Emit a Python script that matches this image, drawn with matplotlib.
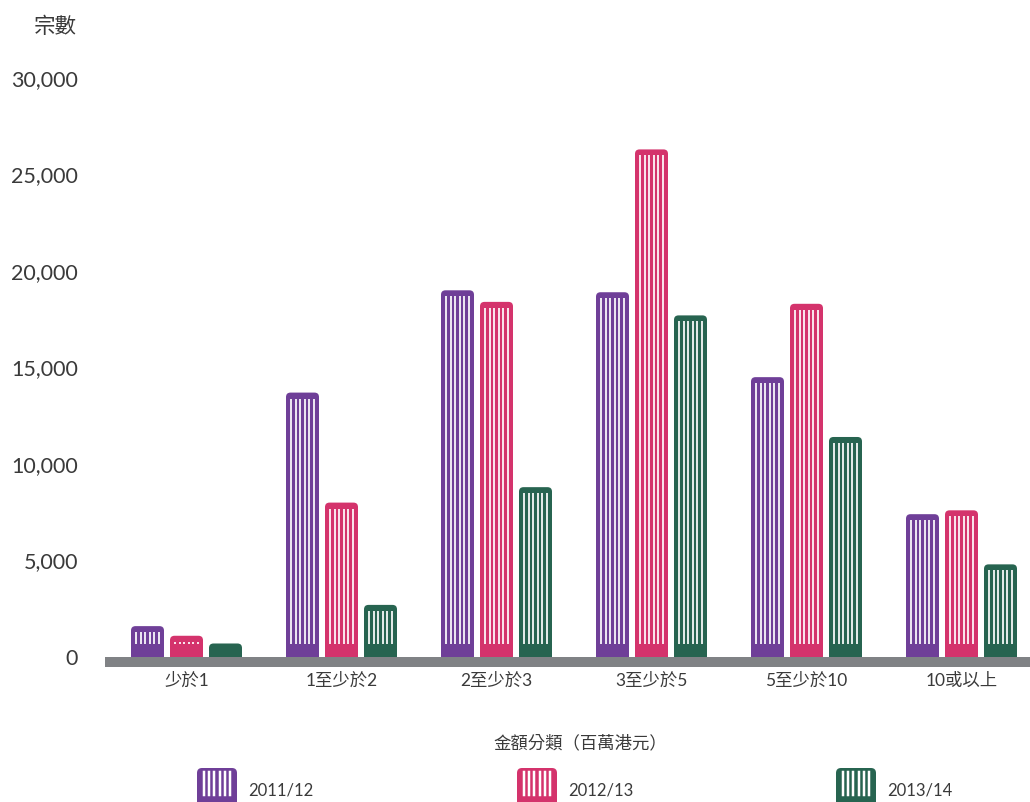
import matplotlib
matplotlib.use('Agg')
import matplotlib.pyplot as plt
from matplotlib.patches import FancyBboxPatch
from matplotlib.transforms import IdentityTransform
import numpy as np

categories = ['少於1', '1至少於2', '2至少於3', '3至少於5', '5至少於10', '10或以上']
series_names = ['2011/12', '2012/13', '2013/14']
v2011 = [1600, 13700, 19000, 18900, 14500, 7400]
v2012 = [1100, 8000, 18400, 26300, 18300, 7600]
v2013 = [700, 2700, 8800, 17700, 11400, 4800]
yticks = [0, 5000, 10000, 15000, 20000, 25000, 30000]
colors = ['#6f3f98', '#d4336c', '#276450']
band_color = '#808285'
text_color = '#3a3a3a'

FAM = ['Lato', 'Noto Sans CJK TC', 'DejaVu Sans']
plt.rcParams['font.family'] = FAM

W, H = 1030, 802
fig = plt.figure(figsize=(W / 100, H / 100), dpi=100)

# axes geometry in pixels
ax_l, ax_r, ax_t, ax_b = 105, 1030, 40, 667
ax = fig.add_axes([ax_l / W, 1 - ax_b / H, (ax_r - ax_l) / W, (ax_b - ax_t) / H])

zero_px, top_px = 657, 78
ppu_y = (zero_px - top_px) / 30000.0   # pixels per data unit (y)
px_y = 1 / ppu_y                        # data units per pixel (y)
grp_px = 155.0
px_x = 1 / grp_px                       # data units per pixel (x)
c0 = 186.5
ax.set_xlim((ax_l - c0) / grp_px, (ax_r - c0) / grp_px)
ax.set_ylim(-(ax_b - zero_px) * px_y, (zero_px - ax_t) * px_y)

x = np.arange(len(categories))
bw = 33 * px_x
off = 39 * px_x
series = [v2011, v2012, v2013]

for s, (vals, col) in enumerate(zip(series, colors)):
    rects = ax.bar(x + (s - 1) * off, vals, width=bw, color=col, zorder=2)
    for r in rects:
        x0, w, h = r.get_x(), r.get_width(), r.get_height()
        r.set_visible(False)
        p = FancyBboxPatch((x0, -8 * px_y), w, h + 8 * px_y,
                           boxstyle=f"round,pad=0,rounding_size={4.5 * px_x}",
                           mutation_aspect=px_y / px_x, fc=col, ec='none', zorder=2)
        ax.add_patch(p)
        ylo = 13 * px_y
        yhi = h - 6 * px_y
        if yhi > ylo:
            xs = x0 + w / 2 + np.array([-2.5, -1.5, -0.5, 0.5, 1.5, 2.5]) * 4.65 * px_x
            ax.vlines(xs, ylo, yhi, colors='white', linewidth=1.25, zorder=3)

ax.axhspan(ax.get_ylim()[0], 0, color=band_color, zorder=4, lw=0)

for sp in ax.spines.values():
    sp.set_visible(False)
ax.set_yticks(yticks)
ax.set_yticklabels([f'{v:,}' for v in yticks])
ax.set_xticks(x)
ax.set_xticklabels(categories)
ax.tick_params(axis='y', length=0, pad=27 * 0.72, labelsize=15.5, labelcolor=text_color)
ax.tick_params(axis='x', length=0, pad=4, labelsize=12.5, labelcolor=text_color)

fig.text(55 / W, 1 - 27 / H, '宗數', ha='center', va='center', fontsize=15.5, color=text_color)
fig.text(580 / W, 1 - 743 / H, '金額分類（百萬港元）', ha='center', va='center', fontsize=12.5, color=text_color)

# legend drawn in pixel space
ident = IdentityTransform()
leg_x = [197, 517, 836]
for lx, col, name in zip(leg_x, colors, series_names):
    icon = FancyBboxPatch((lx, -10), 40, 44, boxstyle="round,pad=0,rounding_size=5",
                          fc=col, ec='none', transform=ident)
    fig.add_artist(icon)
    cx = lx + 20
    for k in [-2.5, -1.5, -0.5, 0.5, 1.5, 2.5]:
        xs = cx + k * 5.26
        fig.add_artist(matplotlib.lines.Line2D([xs, xs], [7, 30], color='white',
                                               lw=2.5 * 0.72, transform=ident))
    fig.text((lx + 51) / W, 12 / H, name, ha='left', va='center', fontsize=12, color=text_color)

fig.savefig('out.png', dpi=100)
